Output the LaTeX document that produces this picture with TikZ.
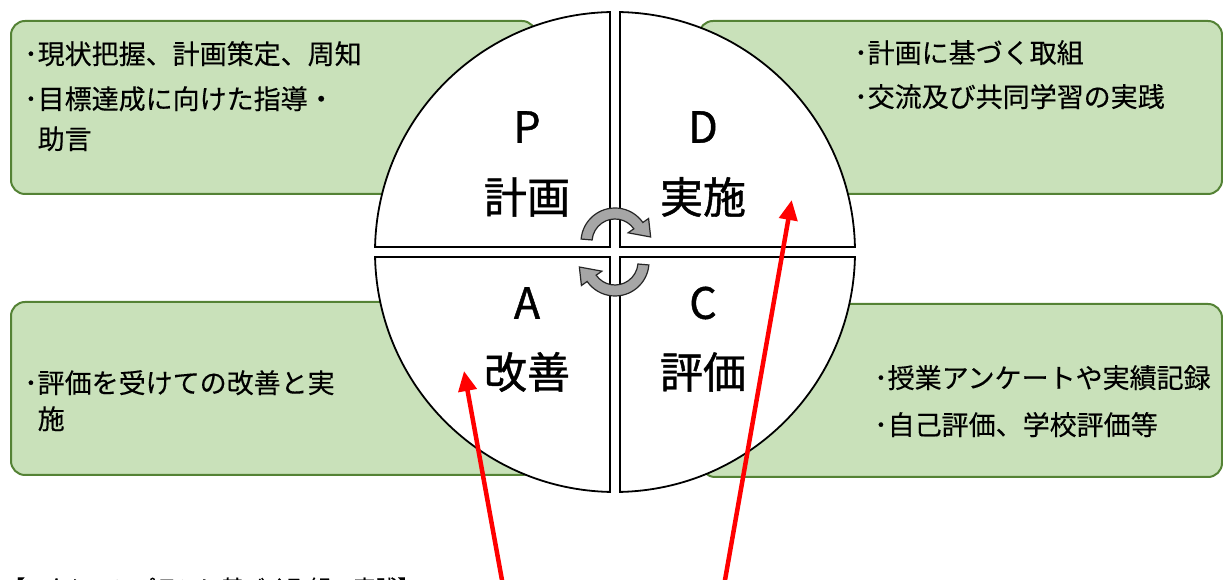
\documentclass[tikz,border=0pt]{standalone}
\usepackage{fontspec}
\setmainfont{Noto Sans CJK JP}[FakeBold=0.3]
\newfontfamily\labelfont{Noto Sans CJK JP}[FakeBold=1.0]
\usetikzlibrary{arrows.meta,calc}
\definecolor{boxfill}{HTML}{C9E1BA}
\definecolor{boxline}{HTML}{548235}
\definecolor{cyclegray}{HTML}{A6A6A6}
\begin{document}
\begin{tikzpicture}[x=1pt,y=1pt,
  greenbox/.style={draw=boxline, line width=2pt, fill=boxfill, rounded corners=14pt,
                   rectangle, inner sep=0pt, anchor=south west},
  boxtext/.style={anchor=north west, inner sep=0pt, align=left,
                  font=\fontsize{27}{45}\selectfont},
  quadrant/.style={draw=black, line width=1.8pt, fill=white},
  biglabel/.style={font=\labelfont\fontsize{43}{46}\selectfont, inner sep=0pt},
  cyclearrow/.style={draw=black!85, line width=1.2pt, fill=cyclegray},
  redarrow/.style={draw=red, line width=4.5pt, -{Triangle[length=20pt,width=18pt]}},
]
\useasboundingbox (0,0) rectangle (1223,580);
\clip (0,0) rectangle (1223,580);

% green boxes
\node[greenbox, minimum width=525pt, minimum height=173pt] (boxP) at (10,385) {};
\node[greenbox, minimum width=523pt, minimum height=173pt] (boxD) at (698,385) {};
\node[greenbox, minimum width=525pt, minimum height=173pt] (boxA) at (10,104) {};
\node[greenbox, minimum width=521pt, minimum height=173pt] (boxC) at (700,102) {};

% box texts
\node[boxtext] (txtP) at (24,539) {･現状把握、計画策定、周知\\･目標達成に向けた指導・\\[-5pt]\hphantom{･}助言};
\node[boxtext] (txtD) at (854,540) {･計画に基づく取組\\[-1pt]･交流及び共同学習の実践};
\node[boxtext] (txtA) at (24,210) {･評価を受けての改善と実\\[-9pt]\hphantom{･}施};
\node[boxtext] (txtC) at (874,215) {･授業アンケートや実績記録\\[2pt]･自己評価、学校評価等};

% circle quadrants
\coordinate (O) at (615,328);
\path[quadrant] (610,333) -- ($(O)+(178.81:240)$) arc[start angle=178.81,end angle=91.19,radius=240] -- cycle;
\path[quadrant] (620,333) -- ($(O)+(1.19:240)$) arc[start angle=1.19,end angle=88.81,radius=240] -- cycle;
\path[quadrant] (610,323) -- ($(O)+(181.19:240)$) arc[start angle=181.19,end angle=268.81,radius=240] -- cycle;
\path[quadrant] (620,323) -- ($(O)+(-1.19:240)$) arc[start angle=-1.19,end angle=-88.81,radius=240] -- cycle;

% labels
\node[biglabel] (P) at (527,453) {P};
\node[biglabel] (Pj) at (527,383) {計画};
\node[biglabel] (D) at (703,453) {D};
\node[biglabel] (Dj) at (703,383) {実施};
\node[biglabel] (A) at (527,277) {A};
\node[biglabel] (Aj) at (527,208) {改善};
\node[biglabel] (C) at (703,277) {C};
\node[biglabel] (Cj) at (703,208) {評価};

% cycle arrows
\begin{scope}[shift={(615,338)}]
  \path[cyclearrow] (175:34) arc[start angle=175,end angle=35,radius=34] -- (35:41) -- (8:36)
    -- (35:16) -- (35:23) arc[start angle=35,end angle=175,radius=23] -- cycle;
\end{scope}
\begin{scope}[shift={(615,318)}, rotate=180]
  \path[cyclearrow] (175:34) arc[start angle=175,end angle=35,radius=34] -- (35:41) -- (8:36)
    -- (35:16) -- (35:23) arc[start angle=35,end angle=175,radius=23] -- cycle;
\end{scope}

% red arrows
\coordinate (fromA) at (505.6,-20);
\coordinate (toA) at (464,209);
\coordinate (fromD) at (721.5,-20);
\coordinate (toD) at (791.7,380);
\draw[redarrow] (fromA) -- (toA);
\draw[redarrow] (fromD) -- (toD);

% cut-off caption at the bottom
\node[anchor=base west, inner sep=0pt, font=\fontsize{22}{22}\selectfont] (note) at (3,-16) {【アクションプランに基づく取組の実践】};
\end{tikzpicture}
\end{document}
